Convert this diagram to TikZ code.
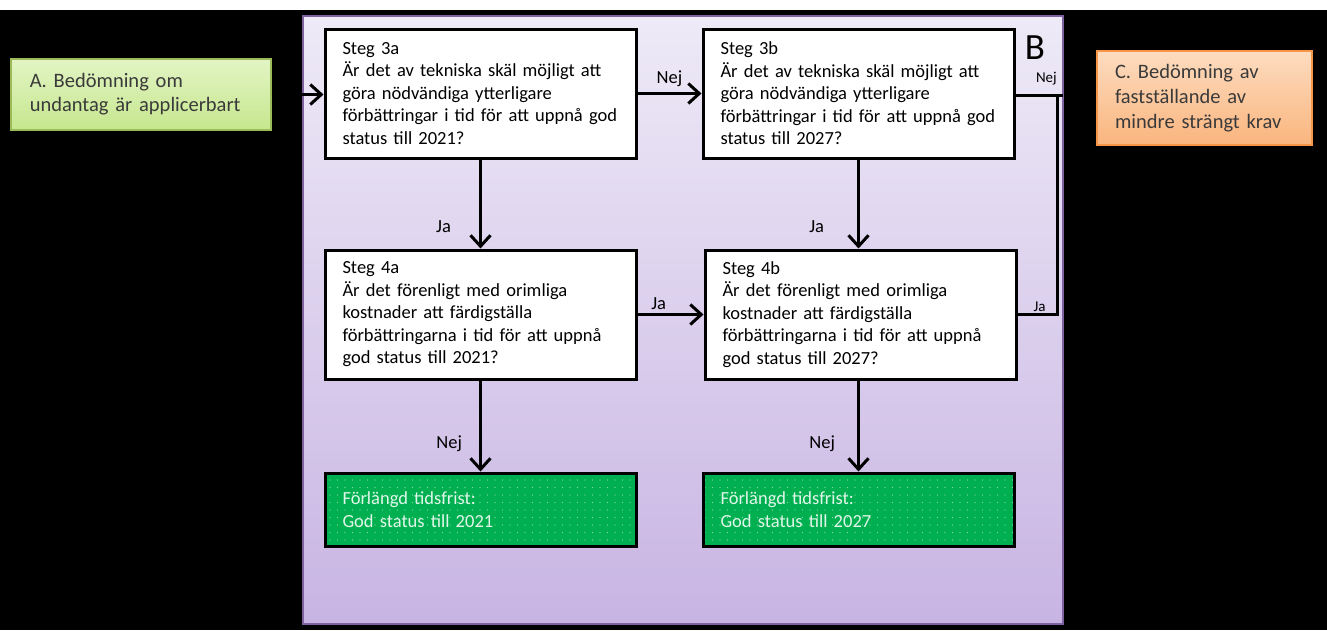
\documentclass[tikz,border=0pt]{standalone}
\usepackage{fontspec}
\setmainfont{Carlito}
\usepackage{tikz}
\usetikzlibrary{positioning,arrows.meta,patterns.meta}
\definecolor{panelline}{HTML}{7F63A1}
\definecolor{paneltop}{HTML}{EEEAF7}
\definecolor{panelbot}{HTML}{C8B4E3}
\definecolor{agreen}{HTML}{9BBB59}
\definecolor{agreentop}{HTML}{E2F4C4}
\definecolor{agreenbot}{HTML}{C6E78E}
\definecolor{corange}{HTML}{F79646}
\definecolor{corangetop}{HTML}{FDDCC0}
\definecolor{corangebot}{HTML}{FAB57E}
\definecolor{resgreen}{HTML}{00B050}
\definecolor{softtext}{HTML}{3A3A3A}
\tikzdeclarepattern{
  name=sparsedots,
  type=uncolored,
  bounding box={(-.8pt,-.8pt) and (.8pt,.8pt)},
  tile size={(7.5pt,7.5pt)},
  code={\fill (0pt,0pt) circle (0.7pt);}
}
\tikzset{
  qbox/.style={draw=black,line width=3pt,fill=white,align=left,text width=276pt,
               inner xsep=17.5pt,minimum height=129pt,font=\fontsize{18.5}{22.5}\selectfont},
  resbox/.style={draw=black,line width=3pt,preaction={fill=resgreen},pattern=sparsedots,
                 pattern color=white!55!resgreen,text=white!88!resgreen,align=left,text width=276pt,
                 inner xsep=17.5pt,minimum height=73pt,font=\fontsize{18.5}{22.5}\selectfont},
  abox/.style={draw=agreen,line width=1.5pt,top color=agreentop,bottom color=agreenbot,text=softtext,
               align=left,text width=222pt,inner xsep=19pt,minimum height=71pt,font=\fontsize{20.5}{24}\selectfont},
  cbox/.style={draw=corange,line width=1.5pt,top color=corangetop,bottom color=corangebot,text=softtext,
               align=left,text width=179pt,inner xsep=18pt,minimum height=94pt,font=\fontsize{20.5}{25}\selectfont},
  panel/.style={draw=panelline,line width=2pt,top color=paneltop,bottom color=panelbot},
  arr/.style={-{Straight Barb[length=11pt,width=20pt]},line width=3pt},
  conn/.style={line width=3pt},
  lbl/.style={font=\fontsize{18.5}{22}\selectfont,inner sep=0pt},
  lblsm/.style={font=\fontsize{15}{18}\selectfont,inner sep=0pt}
}
\begin{document}
\begin{tikzpicture}[x=1pt,y=-1pt]
  \useasboundingbox (0,0) rectangle (1327,630);
  \fill[white] (0,0) rectangle (1327,10);
  \fill[black] (0,10) rectangle (1327,630);
  \draw[panel] (303,16) rectangle (1063,624);
  \node[font=\fontsize{37}{40}\selectfont,inner sep=0pt] (bmark) at (1035,48) {B};
  \node[qbox] (s3a) at (480.5,93.5) {Steg 3a\\Är det av tekniska skäl möjligt att\\göra nödvändiga ytterligare\\förbättringar i tid för att uppnå god\\status till 2021?};
  \node[qbox,right=64pt of s3a] (s3b) {Steg 3b\\Är det av tekniska skäl möjligt att\\göra nödvändiga ytterligare\\förbättringar i tid för att uppnå god\\status till 2027?};
  \node[qbox,below=89pt of s3a] (s4a) {Steg 4a\\Är det förenligt med orimliga\\kostnader att färdigställa\\förbättringarna i tid för att uppnå\\god status till 2021?};
  \node[qbox,right=66pt of s4a] (s4b) {Steg 4b\\Är det förenligt med orimliga\\kostnader att färdigställa\\förbättringarna i tid för att uppnå\\god status till 2027?};
  \node[resbox,below=91pt of s4a] (r4a) {Förlängd tidsfrist:\\God status till 2021};
  \node[resbox,below=91pt of s4b,xshift=-2pt] (r4b) {Förlängd tidsfrist:\\God status till 2027};
  \node[abox,left=52pt of s3a,yshift=-1pt] (bedA) {A. Bedömning om\\undantag är applicerbart};
  \node[cbox] (bedC) at (1204.5,98) {C. Bedömning av\\fastställande av\\mindre strängt krav};
  \coordinate (jn) at (1057,95);
  \coordinate (bout) at (1063,95);
  \draw[arr] (bedA.east) -- (bedA.east -| s3a.west);
  \draw[arr] (s3a) -- node[lbl,above=5pt] (n1) {Nej} (s3b);
  \draw[arr] (s3a) -- node[lbl,pos=0.75,left=28pt] (j1) {Ja} (s4a);
  \draw[arr] (s3b.south) -- node[lbl,pos=0.75,left=33pt] (j2) {Ja} (s3b.south |- s4b.north);
  \draw[arr] (s4a) -- node[lbl,pos=0.32,above=3pt] (j3) {Ja} (s4b);
  \draw[arr] (s4a) -- node[lbl,pos=0.7,left=17pt] (n2) {Nej} (r4a);
  \draw[arr] (r4b.north |- s4b.south) -- node[lbl,pos=0.7,left=22pt] (n3) {Nej} (r4b.north);
  \draw[conn] (s3b.east |- bout) -- node[lblsm,pos=0.65,above=8pt] (n4) {Nej} (bout);
  \draw[conn] (s4b.east) -| node[lblsm,pos=0.28,above=1pt] (j4) {Ja} (jn);
\end{tikzpicture}
\end{document}
